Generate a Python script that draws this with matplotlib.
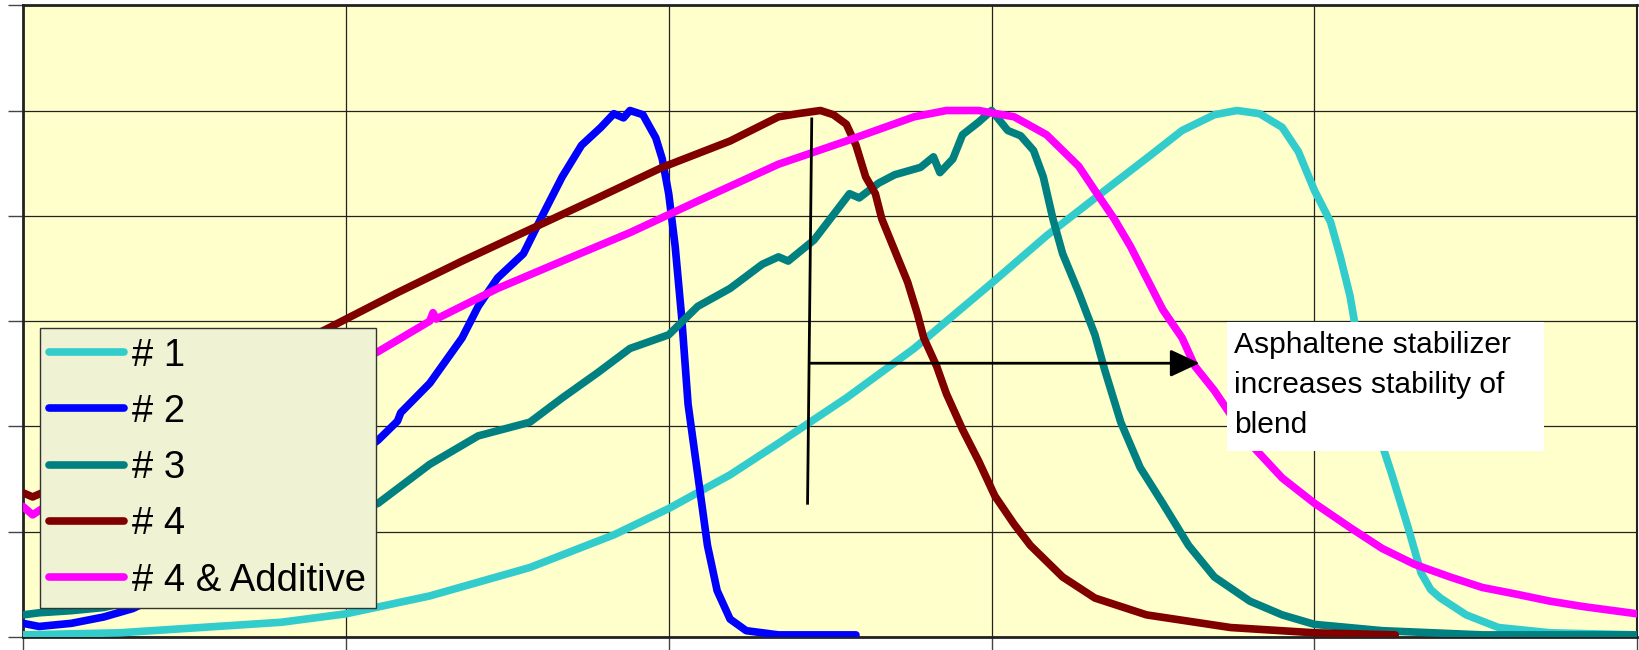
import matplotlib.pyplot as plt
from matplotlib.patches import Rectangle

plt.rcParams['font.family'] = ['Liberation Sans', 'DejaVu Sans']

# series values (x in grid units, y normalised so each peak = 5)
x1 = [0, 0.3, 0.55, 0.8, 1.0, 1.26, 1.57, 1.83, 2.0, 2.19, 2.34, 2.55, 2.76, 3.0, 3.17,
      3.38, 3.49, 3.59, 3.69, 3.76, 3.83, 3.90, 3.95, 4.0, 4.05, 4.08, 4.11, 4.14, 4.19,
      4.24, 4.29, 4.33, 4.36, 4.39, 4.47, 4.57, 4.73, 5.0]
y1 = [0.02, 0.04, 0.09, 0.14, 0.22, 0.39, 0.66, 0.97, 1.22, 1.54, 1.84, 2.27, 2.74, 3.36, 3.81,
      4.31, 4.57, 4.81, 4.96, 5.0, 4.97, 4.84, 4.61, 4.24, 3.94, 3.61, 3.24, 2.71, 2.01,
      1.54, 1.04, 0.61, 0.45, 0.37, 0.21, 0.09, 0.04, 0.02]

x2 = [0, 0.05, 0.15, 0.25, 0.34, 0.5, 0.7, 0.9, 1.10, 1.16, 1.17, 1.26, 1.36, 1.41, 1.47,
      1.55, 1.61, 1.67, 1.73, 1.79, 1.83, 1.86, 1.88, 1.92, 1.96, 1.98, 2.0, 2.02, 2.04,
      2.06, 2.09, 2.12, 2.15, 2.19, 2.24, 2.34, 2.58]
y2 = [0.13, 0.10, 0.13, 0.19, 0.27, 0.5, 0.9, 1.4, 1.87, 2.05, 2.13, 2.41, 2.84, 3.14, 3.41,
      3.64, 4.01, 4.37, 4.67, 4.84, 4.97, 4.93, 5.0, 4.96, 4.74, 4.54, 4.21, 3.71, 3.04,
      2.21, 1.54, 0.87, 0.44, 0.17, 0.06, 0.02, 0.02]

x3 = [0, 0.05, 0.15, 0.25, 0.5, 0.75, 1.0, 1.10, 1.26, 1.41, 1.57, 1.67, 1.78, 1.88, 2.0,
      2.09, 2.19, 2.29, 2.34, 2.37, 2.45, 2.50, 2.56, 2.59, 2.65, 2.70, 2.78, 2.82, 2.84,
      2.88, 2.91, 2.96, 3.0, 3.05, 3.09, 3.13, 3.16, 3.19, 3.22, 3.27, 3.32, 3.35, 3.40,
      3.46, 3.53, 3.61, 3.69, 3.80, 3.90, 4.0, 4.21, 4.52, 5.0]
y3 = [0.21, 0.23, 0.25, 0.28, 0.45, 0.8, 1.15, 1.27, 1.64, 1.91, 2.04, 2.27, 2.51, 2.74, 2.87,
      3.14, 3.31, 3.54, 3.61, 3.57, 3.77, 3.97, 4.21, 4.17, 4.31, 4.39, 4.46, 4.56, 4.41,
      4.54, 4.77, 4.89, 5.0, 4.81, 4.76, 4.62, 4.37, 3.97, 3.64, 3.27, 2.87, 2.54, 2.04,
      1.61, 1.27, 0.87, 0.57, 0.34, 0.21, 0.12, 0.06, 0.02, 0.02]

x4 = [0, 0.03, 0.06, 0.3, 0.6, 0.95, 1.16, 1.36, 1.57, 1.78, 1.98, 2.19, 2.34, 2.40, 2.47,
      2.51, 2.55, 2.58, 2.61, 2.64, 2.66, 2.70, 2.74, 2.77, 2.79, 2.83, 2.86, 2.91, 2.96,
      3.01, 3.07, 3.12, 3.22, 3.32, 3.48, 3.74, 4.0, 4.25]
y4 = [1.37, 1.33, 1.37, 1.85, 2.4, 2.94, 3.27, 3.57, 3.87, 4.17, 4.46, 4.71, 4.94, 4.97, 5.0,
      4.96, 4.87, 4.67, 4.37, 4.21, 3.97, 3.67, 3.37, 3.07, 2.84, 2.57, 2.31, 1.97, 1.67,
      1.34, 1.07, 0.87, 0.57, 0.37, 0.21, 0.09, 0.04, 0.02]

x5 = [0, 0.03, 0.06, 0.3, 0.7, 1.10, 1.26, 1.27, 1.28, 1.47, 1.67, 1.88, 2.09, 2.34, 2.55,
      2.76, 2.86, 2.96, 3.07, 3.17, 3.27, 3.32, 3.38, 3.43, 3.48, 3.53, 3.59, 3.63, 3.69,
      3.80, 3.90, 4.0, 4.11, 4.21, 4.31, 4.42, 4.52, 4.62, 4.73, 4.83, 5.0]
y5 = [1.24, 1.16, 1.22, 1.6, 2.15, 2.71, 3.0, 3.08, 3.02, 3.31, 3.57, 3.84, 4.14, 4.49, 4.71,
      4.94, 5.0, 5.0, 4.94, 4.77, 4.47, 4.24, 3.97, 3.71, 3.41, 3.11, 2.84, 2.57, 2.34,
      1.84, 1.51, 1.27, 1.04, 0.84, 0.69, 0.57, 0.47, 0.41, 0.34, 0.29, 0.22]

labels = ['# 1', '# 2', '# 3', '# 4', '# 4 & Additive']
colors = ['#33CCCC', '#0000FF', '#008080', '#800000', '#FF00FF']
note = 'Asphaltene stabilizer\nincreases stability of\nblend'

fig = plt.figure(figsize=(16.39, 6.5), dpi=100)
ax = fig.add_axes([0.014, 0.02, 0.985, 0.972])
ax.set_facecolor('#FFFFCC')

series = [(x1, y1), (x2, y2), (x3, y3), (x4, y4), (x5, y5)]
for (xs, ys), lab, c in zip(series, labels, colors):
    ax.plot(xs, ys, color=c, lw=5.5, label=lab, solid_capstyle='round',
            solid_joinstyle='round', zorder=3)

ax.set_xlim(0, 5)
ax.set_ylim(0, 6)
ax.set_xticks(range(6))
ax.set_yticks(range(7))
ax.set_xticklabels([])
ax.set_yticklabels([])
ax.grid(True, color='#222222', lw=0.9)
ax.set_axisbelow(True)
ax.tick_params(axis='y', direction='out', length=11, width=1, color='#444444')
ax.tick_params(axis='x', direction='out', length=10, width=1, color='#444444')
for s in ax.spines.values():
    s.set_linewidth(2)
    s.set_color('#222222')
ax.spines['right'].set_linewidth(1.5)

# annotation: peak marker and arrow
ax.plot([2.443, 2.43], [4.92, 1.27], color='black', lw=2, zorder=4)
ax.annotate('', xy=(3.644, 2.6), xytext=(2.44, 2.6),
            arrowprops=dict(arrowstyle='-|>,head_length=0.9,head_width=0.42',
                            mutation_scale=20, lw=2, color='black',
                            shrinkA=0, shrinkB=0), zorder=4)
ax.add_patch(Rectangle((3.728, 1.77), 0.982, 1.22, facecolor='white',
                       edgecolor='none', zorder=5))
ax.text(3.752, 2.91, note, fontsize=21.6, va='top', ha='left',
        linespacing=1.55, zorder=6)

leg = ax.legend(loc='upper left', bbox_to_anchor=(0.0105, 0.489), borderaxespad=0,
                fontsize=27.5, labelspacing=0.53, handlelength=1.95,
                handletextpad=0.22, borderpad=0.25, fancybox=False,
                framealpha=1, facecolor='#F0F3D3', edgecolor='#333333')
leg.get_frame().set_linewidth(1)
leg.set_zorder(7)

plt.savefig('out.png', dpi=100)
